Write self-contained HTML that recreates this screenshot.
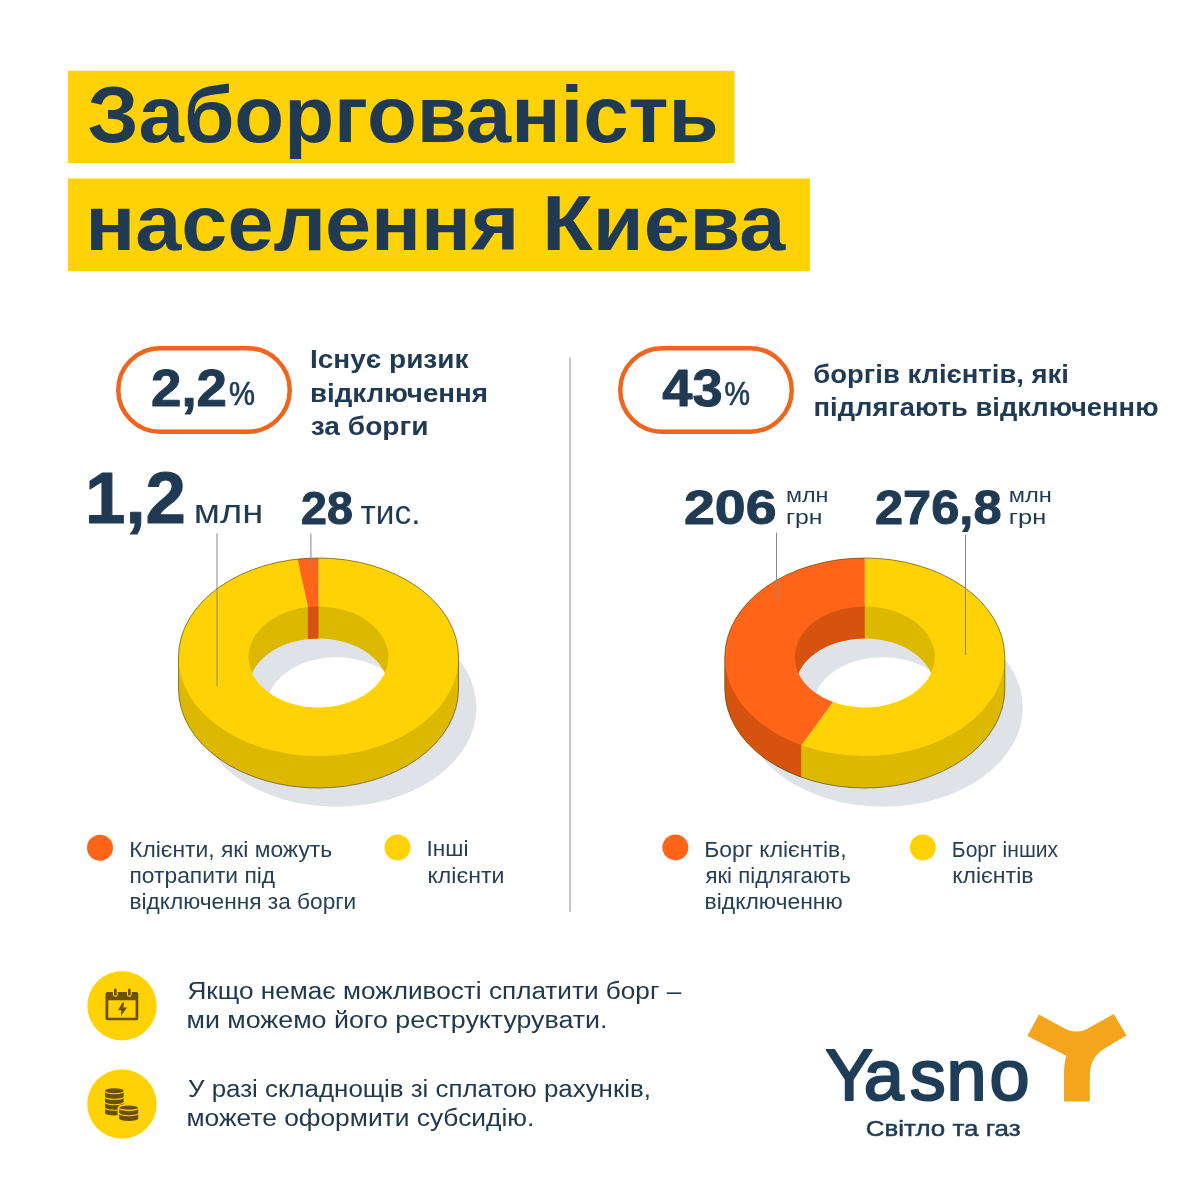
<!DOCTYPE html>
<html lang="uk">
<head>
<meta charset="utf-8">
<title>Заборгованість населення Києва</title>
<style>
html,body{margin:0;padding:0;background:#fff;}
body{width:1200px;height:1200px;overflow:hidden;}
svg{display:block;font-family:"Liberation Sans",sans-serif;}
</style>
</head>
<body>
<svg width="1200" height="1200" viewBox="0 0 1200 1200">
<rect width="1200" height="1200" fill="#fff"/>
<rect x="68" y="70.8" width="666.5" height="92.2" fill="#ffd205"/>
<rect x="68" y="178.5" width="742" height="92.7" fill="#ffd205"/>
<text x="87.4" y="142" font-size="79" font-weight="700" fill="#1f3a52" textLength="631.3" lengthAdjust="spacingAndGlyphs">Заборгованість</text>
<text x="85.33" y="249.8" font-size="78.5" font-weight="700" fill="#1f3a52" textLength="699.95" lengthAdjust="spacingAndGlyphs">населення Києва</text>
<rect x="569" y="357.5" width="2" height="554.3" fill="#c6c6c6"/>
<rect x="118.25" y="348.25" width="171.5" height="83.5" rx="41.75" fill="#fff" stroke="#ee661e" stroke-width="4.5"/>
<rect x="620.25" y="348.25" width="171.5" height="83.5" rx="41.75" fill="#fff" stroke="#ee661e" stroke-width="4.5"/>
<text x="151" y="405.5" font-size="51" font-weight="700" fill="#1f3a52" textLength="76" lengthAdjust="spacingAndGlyphs" stroke="#1f3a52" stroke-width="1" stroke-linejoin="round">2,2</text>
<text x="229" y="405.3" font-size="33" font-weight="400" fill="#1f3a52" textLength="26" lengthAdjust="spacingAndGlyphs" stroke="#1f3a52" stroke-width="0.7">%</text>
<text x="662.3" y="405.5" font-size="51" font-weight="700" fill="#1f3a52" textLength="60.3" lengthAdjust="spacingAndGlyphs" stroke="#1f3a52" stroke-width="1" stroke-linejoin="round">43</text>
<text x="724.5" y="405.3" font-size="33" font-weight="400" fill="#1f3a52" textLength="25.5" lengthAdjust="spacingAndGlyphs" stroke="#1f3a52" stroke-width="0.7">%</text>
<text x="310" y="368.3" font-size="26.3" font-weight="700" fill="#1f3a52" textLength="158.5" lengthAdjust="spacingAndGlyphs">Існує ризик</text>
<text x="310" y="401.5" font-size="26.3" font-weight="700" fill="#1f3a52" textLength="178" lengthAdjust="spacingAndGlyphs">відключення</text>
<text x="310.76" y="434.6" font-size="26.3" font-weight="700" fill="#1f3a52" textLength="117.75" lengthAdjust="spacingAndGlyphs">за борги</text>
<text x="813.34" y="382.7" font-size="26.3" font-weight="700" fill="#1f3a52" textLength="255.68" lengthAdjust="spacingAndGlyphs">боргів клієнтів, які</text>
<text x="813.59" y="416.1" font-size="26.3" font-weight="700" fill="#1f3a52" textLength="344.92" lengthAdjust="spacingAndGlyphs">підлягають відключенню</text>
<text x="85" y="523.3" font-size="72" font-weight="700" fill="#1f3a52" textLength="101" lengthAdjust="spacingAndGlyphs" stroke="#1f3a52" stroke-width="1" stroke-linejoin="round">1,2</text>
<text x="193.7" y="523.3" font-size="34" font-weight="400" fill="#1f3a52" textLength="69.5" lengthAdjust="spacingAndGlyphs">млн</text>
<text x="301" y="523.5" font-size="45.5" font-weight="700" fill="#1f3a52" textLength="51.8" lengthAdjust="spacingAndGlyphs" stroke="#1f3a52" stroke-width="1" stroke-linejoin="round">28</text>
<text x="360.5" y="523.5" font-size="33" font-weight="400" fill="#1f3a52" textLength="60" lengthAdjust="spacingAndGlyphs">тис.</text>
<text x="684" y="523.5" font-size="47.5" font-weight="700" fill="#1f3a52" textLength="92.5" lengthAdjust="spacingAndGlyphs" stroke="#1f3a52" stroke-width="1" stroke-linejoin="round">206</text>
<text x="786" y="502.3" font-size="20.5" font-weight="400" fill="#1f3a52" textLength="42.5" lengthAdjust="spacingAndGlyphs">млн</text>
<text x="786" y="523.7" font-size="20.5" font-weight="400" fill="#1f3a52" textLength="36.5" lengthAdjust="spacingAndGlyphs">грн</text>
<text x="875" y="523.5" font-size="47.5" font-weight="700" fill="#1f3a52" textLength="126.5" lengthAdjust="spacingAndGlyphs" stroke="#1f3a52" stroke-width="1" stroke-linejoin="round">276,8</text>
<text x="1008.8" y="502.3" font-size="20.5" font-weight="400" fill="#1f3a52" textLength="43" lengthAdjust="spacingAndGlyphs">млн</text>
<text x="1008.8" y="523.7" font-size="20.5" font-weight="400" fill="#1f3a52" textLength="37.5" lengthAdjust="spacingAndGlyphs">грн</text>
<path fill="#dfe3e8" fill-rule="evenodd" d="M196.5,707.7 a140,99 0 1 0 280,0 a140,99 0 1 0 -280,0 Z M266.5,707.7 a70,50.5 0 1 0 140,0 a70,50.5 0 1 0 -140,0 Z"/>
<path fill="#ddb800" d="M247.7,657 A70.8,51.3 0 0 1 389.3,657 L389.3,689 L388.5,689 A70,50.5 0 0 0 248.5,689 L247.7,689 Z"/>
<path fill="#d6520f" d="M318.50,605.70 A70.8,51.3 0 0 0 307.86,606.28 L307.98,639.07 A70,50.5 0 0 1 318.50,638.50 Z"/>
<path fill="#ddb800" d="M178.5,655 L178.5,689 A140,99 0 0 0 458.5,689 L458.5,655 A140,99 0 0 1 178.5,655 Z"/>
<path fill="#ffd205" d="M297.47,559.12 A140,99 0 1 0 318.50,558.00 L318.50,606.50 A70,50.5 0 1 1 307.98,607.07 Z"/>
<path fill="#ff6418" d="M318.50,558.00 A140,99 0 0 0 297.47,559.12 L307.98,607.07 A70,50.5 0 0 1 318.50,606.50 Z"/>
<path fill="none" stroke="#5b4a05" stroke-opacity="0.85" stroke-width="0.8" d="M178.5,657 A140,99 0 0 1 458.5,657 L458.5,689 A140,99 0 0 1 178.5,689 Z"/>
<path fill="#dfe3e8" fill-rule="evenodd" d="M742.8,707.7 a140,99 0 1 0 280,0 a140,99 0 1 0 -280,0 Z M812.8,707.7 a70,50.5 0 1 0 140,0 a70,50.5 0 1 0 -140,0 Z"/>
<path fill="#ddb800" d="M794.0,657 A70.8,51.3 0 0 1 935.5999999999999,657 L935.5999999999999,689 L934.8,689 A70,50.5 0 0 0 794.8,689 L794.0,689 Z"/>
<path fill="#d6520f" d="M864.80,605.70 A70.8,51.3 0 0 0 794.00,657.00 L794.80,689.00 A70,50.5 0 0 1 864.80,638.50 Z"/>
<path fill="#ddb800" d="M724.8,655 L724.8,689 A140,99 0 0 0 1004.8,689 L1004.8,655 A140,99 0 0 1 724.8,655 Z"/>
<path fill="#d6520f" d="M724.8,655 L724.8,689 A140,99 0 0 0 801.24,777.21 L801.24,743.21 A140,99 0 0 1 724.8,655 Z"/>
<path fill="#ffd205" d="M801.24,745.21 A140,99 0 1 0 864.80,558.00 L864.80,606.50 A70,50.5 0 1 1 833.02,702.00 Z"/>
<path fill="#ff6418" d="M864.80,558.00 A140,99 0 0 0 801.24,745.21 L833.02,702.00 A70,50.5 0 0 1 864.80,606.50 Z"/>
<path fill="none" stroke="#5b4a05" stroke-opacity="0.85" stroke-width="0.8" d="M724.8,657 A140,99 0 0 1 1004.8,657 L1004.8,689 A140,99 0 0 1 724.8,689 Z"/>
<rect x="216.5" y="533.3" width="1" height="152.7" fill="#878787"/>
<rect x="310.4" y="533.7" width="1" height="35.0" fill="#878787"/>
<rect x="776" y="532.7" width="1" height="67.3" fill="#878787"/>
<rect x="965" y="534.7" width="1" height="120.3" fill="#878787"/>
<circle cx="100" cy="847.7" r="13" fill="#ff6418"/>
<circle cx="397.5" cy="847.5" r="13" fill="#ffd205"/>
<text x="129.20" y="856.8" font-size="21.5" font-weight="400" fill="#263f55" textLength="202.96" lengthAdjust="spacingAndGlyphs">Клієнти, які можуть</text>
<text x="129.52" y="883" font-size="21.5" font-weight="400" fill="#263f55" textLength="145.65" lengthAdjust="spacingAndGlyphs">потрапити під</text>
<text x="129.52" y="909.3" font-size="21.5" font-weight="400" fill="#263f55" textLength="226.66" lengthAdjust="spacingAndGlyphs">відключення за борги</text>
<text x="426.5" y="856.3" font-size="21.5" font-weight="400" fill="#263f55" textLength="42" lengthAdjust="spacingAndGlyphs">Інші</text>
<text x="427.5" y="882.7" font-size="21.5" font-weight="400" fill="#263f55" textLength="77" lengthAdjust="spacingAndGlyphs">клієнти</text>
<circle cx="675.4" cy="847.4" r="13" fill="#ff6418"/>
<circle cx="922.8" cy="847.5" r="13" fill="#ffd205"/>
<text x="704.19" y="856.6" font-size="21.5" font-weight="400" fill="#263f55" textLength="142.30" lengthAdjust="spacingAndGlyphs">Борг клієнтів,</text>
<text x="705.40" y="882.8" font-size="21.5" font-weight="400" fill="#263f55" textLength="145.43" lengthAdjust="spacingAndGlyphs">які підлягають</text>
<text x="704.5" y="908.5" font-size="21.5" font-weight="400" fill="#263f55" textLength="138.2" lengthAdjust="spacingAndGlyphs">відключенню</text>
<text x="951.83" y="856.6" font-size="21.5" font-weight="400" fill="#263f55" textLength="106.31" lengthAdjust="spacingAndGlyphs">Борг інших</text>
<text x="952.2" y="882.6" font-size="21.5" font-weight="400" fill="#263f55" textLength="81.3" lengthAdjust="spacingAndGlyphs">клієнтів</text>
<circle cx="122" cy="1005.7" r="34.7" fill="#ffd205"/>
<circle cx="121.9" cy="1104" r="34.7" fill="#ffd205"/>
<g fill="#6b5000">
<path fill-rule="evenodd" d="M107.5,992 H136.3 Q138.3,992 138.3,994 V1018.3 Q138.3,1020.3 136.3,1020.3 H107.5 Q105.5,1020.3 105.5,1018.3 V994 Q105.5,992 107.5,992 Z M108.3,1000.3 V1017.7 H135.6 V1000.3 Z"/>
<rect x="112.9" y="987.6" width="4.8" height="9.4" rx="2.4" fill="#ffd205"/><rect x="126.9" y="987.6" width="4.8" height="9.4" rx="2.4" fill="#ffd205"/>
<rect x="114" y="988.4" width="2.6" height="7.4" rx="1.3"/><rect x="128" y="988.4" width="2.6" height="7.4" rx="1.3"/>
<path d="M122.4,1002.6 L118,1010.2 H121.4 L120.9,1016.2 L127,1007.6 H123.4 L124,1002.6 Z"/>
</g>
<path d="M105,1090.8 A9.350000000000001,2.5 0 0 1 123.7,1090.8 V1113.0 A9.350000000000001,2.5 0 0 1 105,1113.0 Z" fill="#6b5000"/>
<path d="M104.7,1091.1 A9.350000000000001,2.5 0 0 0 124.0,1091.1" fill="none" stroke="#ffd205" stroke-width="1.1"/>
<path d="M104.7,1096.7 A9.350000000000001,2.5 0 0 0 124.0,1096.7" fill="none" stroke="#ffd205" stroke-width="1.1"/>
<path d="M104.7,1102.1 A9.350000000000001,2.5 0 0 0 124.0,1102.1" fill="none" stroke="#ffd205" stroke-width="1.1"/>
<path d="M104.7,1107.6 A9.350000000000001,2.5 0 0 0 124.0,1107.6" fill="none" stroke="#ffd205" stroke-width="1.1"/>
<path d="M119.2,1108.1 A9.499999999999993,2.5 0 0 1 138.2,1108.1 V1118.4 A9.499999999999993,2.5 0 0 1 119.2,1118.4 Z" fill="#ffd205" stroke="#ffd205" stroke-width="3.2"/>
<path d="M119.2,1108.1 A9.499999999999993,2.5 0 0 1 138.2,1108.1 V1118.4 A9.499999999999993,2.5 0 0 1 119.2,1118.4 Z" fill="#6b5000"/>
<path d="M118.9,1107.8 A9.499999999999993,2.5 0 0 0 138.5,1107.8" fill="none" stroke="#ffd205" stroke-width="1.1"/>
<path d="M118.9,1113.1 A9.499999999999993,2.5 0 0 0 138.5,1113.1" fill="none" stroke="#ffd205" stroke-width="1.1"/>
<text x="187.48" y="999.3" font-size="23.5" font-weight="400" fill="#22394d" textLength="493.79" lengthAdjust="spacingAndGlyphs">Якщо немає можливості сплатити борг –</text>
<text x="186.48" y="1028.2" font-size="23.5" font-weight="400" fill="#22394d" textLength="420.95" lengthAdjust="spacingAndGlyphs">ми можемо його реструктурувати.</text>
<text x="188.04" y="1096.8" font-size="23.5" font-weight="400" fill="#22394d" textLength="462.89" lengthAdjust="spacingAndGlyphs">У разі складнощів зі сплатою рахунків,</text>
<text x="186.51" y="1125.5" font-size="23.5" font-weight="400" fill="#22394d" textLength="347.88" lengthAdjust="spacingAndGlyphs">можете оформити субсидію.</text>
<text x="825.2 863.8 909.8 946.4 989.6" y="1100" font-size="72" font-weight="400" fill="#1f3d57" stroke="#1f3d57" stroke-width="2.2" stroke-linejoin="round">Yasno</text>
<text x="865.78" y="1136.4" font-size="22.5" font-weight="400" fill="#1f3a52" textLength="154.91" lengthAdjust="spacingAndGlyphs" stroke="#1f3a52" stroke-width="0.5">Світло та газ</text>
<path fill="#f5a51c" d="M1039,1014.6 L1062,1027 Q1076.5,1036 1090.5,1027 L1113.75,1014 L1126.5,1035.4 L1104.6,1048.4 Q1090,1057 1089.8,1075 L1089.8,1101.5 L1064,1101.5 L1064,1075 Q1064,1062 1066.5,1055.7 L1027.3,1035.9 Z"/>
</svg>
</body>
</html>
